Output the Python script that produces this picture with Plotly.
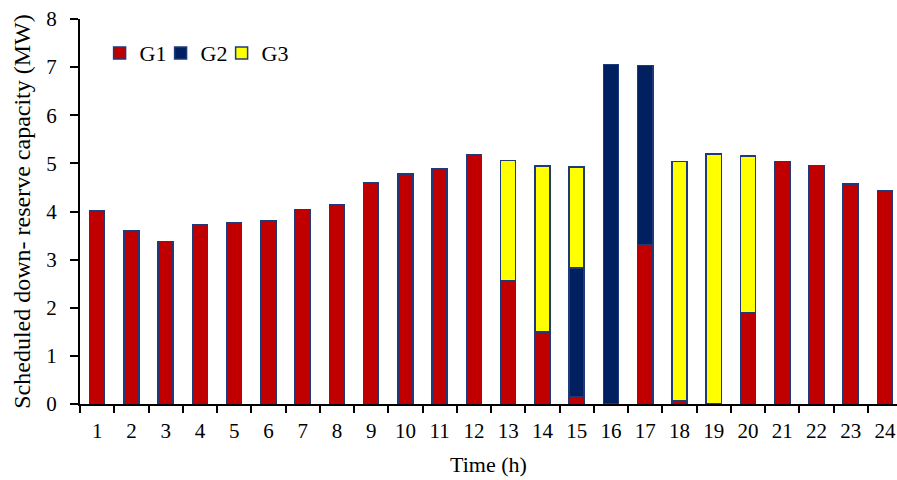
import plotly.graph_objects as go

hours = [str(h) for h in range(1, 25)]
g1 = [4.02, 3.60, 3.38, 3.72, 3.76, 3.80, 4.04, 4.14, 4.60, 4.78, 4.88, 5.17,
      2.56, 1.50, 0.15, 0.00, 3.30, 0.07, 0.00, 1.90, 5.04, 4.96, 4.57, 4.44]
g2 = [0, 0, 0, 0, 0, 0, 0, 0, 0, 0, 0, 0,
      0, 0, 2.68, 7.05, 3.73, 0, 0, 0, 0, 0, 0, 0]
g3 = [0, 0, 0, 0, 0, 0, 0, 0, 0, 0, 0, 0,
      2.50, 3.45, 2.09, 0, 0, 4.97, 5.20, 3.25, 0, 0, 0, 0]

font = "Liberation Serif, Times New Roman, serif"
outline = dict(color="#1F3A78", width=1.5)

fig = go.Figure()
for name, vals, col, lw in [("G1", g1, "#C00000", 16), ("G2", g2, "#002060", 16),
                            ("G3", g3, "#FFFF00", 40)]:
    fig.add_trace(go.Bar(x=hours, y=vals, name=name, width=0.44, legendwidth=lw,
                         marker=dict(color=col, line=outline)))

fig.update_layout(
    barmode="stack",
    width=897, height=480,
    margin=dict(l=80, r=0, t=19, b=76),
    paper_bgcolor="white", plot_bgcolor="white",
    font=dict(family=font, size=21, color="black"),
    showlegend=True,
    legend=dict(orientation="h", x=0.024, y=0.966, xanchor="left", yanchor="top",
                font=dict(family=font, size=22), bgcolor="rgba(0,0,0,0)",
                itemwidth=30, traceorder="normal"),
)
fig.update_xaxes(type="category", range=[-0.5, 23.35], showline=True, linecolor="black",
                 linewidth=2, ticks="outside", tickson="boundaries", ticklen=7,
                 tickwidth=1.5, tickcolor="black", showgrid=False, automargin=False,
                 title=dict(text="Time (h)", font=dict(size=22), standoff=14),
                 tickfont=dict(size=21), ticklabelstandoff=7)
fig.update_yaxes(range=[0, 8], dtick=1, showline=True, linecolor="black", linewidth=2,
                 ticks="outside", ticklen=8, tickwidth=1.5, tickcolor="black",
                 showgrid=False, zeroline=False, automargin=False,
                 title=dict(text="Scheduled down- reserve capacity (MW)", font=dict(size=24), standoff=9),
                 tickfont=dict(size=21), ticklabelstandoff=9)

fig.write_html("out.html", config={"displayModeBar": False},
               post_script="document.body.style.margin='0';document.body.style.overflow='hidden';")
